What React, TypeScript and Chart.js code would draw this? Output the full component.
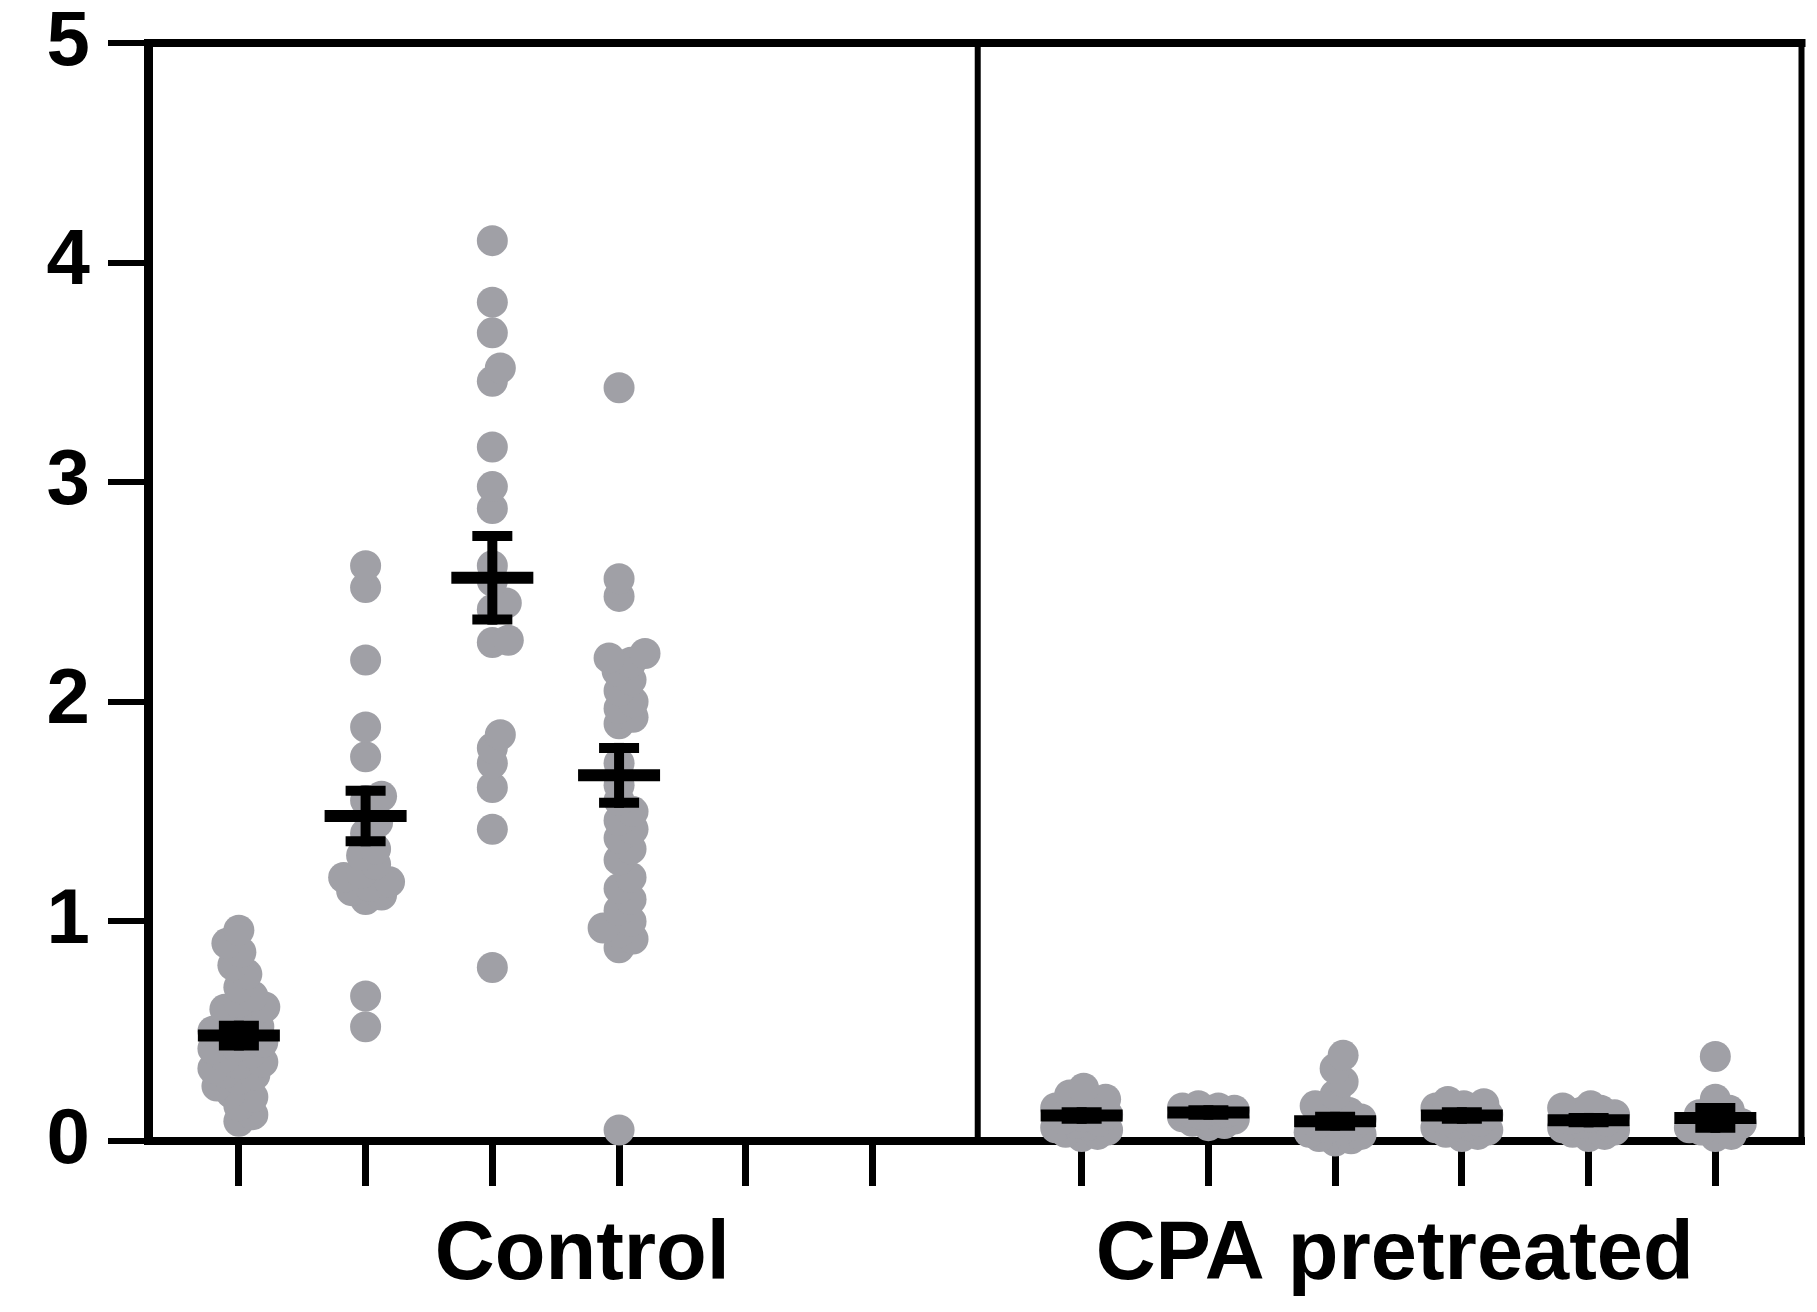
import React, { useEffect, useRef } from "react";
import { Chart, registerables } from "chart.js";

Chart.register(...registerables);

// Panel captions under the x axis
const panelLabels = ["Control", "CPA pretreated"];
const panelLabelSlots = [3.71, 10.12];

// Y axis ticks
const yTickValues = [0, 1, 2, 3, 4, 5];

// Individual measurements, Control panel (six slots, last two empty)
const control1 = [
  0.96, 0.9, 0.86, 0.8, 0.76, 0.7, 0.66, 0.63, 0.61, 0.6, 0.58, 0.55, 0.52, 0.5, 0.49, 0.47, 0.45,
  0.43, 0.42, 0.4, 0.38, 0.36, 0.35, 0.33, 0.31, 0.3, 0.28, 0.25, 0.22, 0.2, 0.16, 0.12, 0.09,
];
const control2 = [
  2.62, 2.52, 2.19, 1.885, 1.75, 1.57, 1.55, 1.45, 1.4, 1.33, 1.3, 1.26, 1.22, 1.2, 1.18, 1.16, 1.14,
  1.12, 1.1, 0.66, 0.52,
];
const control3 = [
  4.1, 3.82, 3.68, 3.52, 3.46, 3.16, 2.98, 2.88, 2.62, 2.55, 2.45, 2.42, 2.28, 2.27, 1.85, 1.79, 1.72,
  1.61, 1.42, 0.79,
];
const control4 = [
  3.43, 2.56, 2.48, 2.22, 2.2, 2.18, 2.14, 2.1, 2.05, 2.0, 1.97, 1.93, 1.9, 1.72, 1.62, 1.55, 1.5,
  1.46, 1.42, 1.38, 1.33, 1.28, 1.2, 1.15, 1.1, 1.05, 1.0, 0.97, 0.95, 0.92, 0.88, 0.05,
];
const control5: number[] = [];
const control6: number[] = [];

// Individual measurements, CPA pretreated panel
const cpa1 = [0.24, 0.21, 0.19, 0.17, 0.15, 0.14, 0.13, 0.12, 0.11, 0.1, 0.09, 0.08, 0.07, 0.06, 0.05, 0.04, 0.03, 0.02];
const cpa2 = [0.16, 0.15, 0.15, 0.14, 0.14, 0.13, 0.13, 0.12, 0.12, 0.11, 0.1, 0.09, 0.08, 0.07];
const cpa3 = [0.39, 0.33, 0.27, 0.21, 0.16, 0.13, 0.11, 0.1, 0.09, 0.08, 0.07, 0.06, 0.05, 0.04, 0.03, 0.02, 0.01, 0.0];
const cpa4 = [0.18, 0.17, 0.16, 0.15, 0.14, 0.13, 0.12, 0.11, 0.1, 0.09, 0.08, 0.07, 0.06, 0.05, 0.04, 0.03, 0.02];
const cpa5 = [0.16, 0.15, 0.14, 0.13, 0.12, 0.11, 0.1, 0.09, 0.08, 0.07, 0.06, 0.05, 0.04, 0.03, 0.02];
const cpa6 = [0.385, 0.19, 0.14, 0.12, 0.1, 0.08, 0.06, 0.05, 0.03, 0.02];

const groupValues = [control1, control2, control3, control4, control5, control6, cpa1, cpa2, cpa3, cpa4, cpa5, cpa6];

// Mean and SEM for each slot (null = no data)
const groupMeans = [0.48, 1.48, 2.565, 1.665, null, null, 0.116, 0.13, 0.09, 0.116, 0.095, 0.105];
const groupSems = [0.045, 0.115, 0.19, 0.125, null, null, 0.015, 0.01, 0.02, 0.015, 0.01, 0.045];

// Layout
const X_MIN = 0.283;
const X_MAX = 13.33;
const DIVIDER_X = 6.83;
const slotX = (i: number) => (i < 6 ? i + 1 : i + 1.65);
const tickPositions = groupValues.map((_, i) => slotX(i));

const PX_PER_X = 127;
const PX_PER_Y = 219.6;
const DOT_R = 15.5;
const MIN_GAP = 15;
const MAX_OFFSET = 26;
const STEP = 2;
const DOT_COLOR = "#a0a0a6";
const FONT = "'Liberation Sans', Arial, Helvetica, sans-serif";

// Compact beeswarm: dots sit as near the slot centre as they can, overlapping
// when the swarm would otherwise grow wider than MAX_OFFSET.
function swarm(values: number[], center: number) {
  const order = values.map((_, i) => i).sort((a, b) => values[a] - values[b]);
  const placed: { px: number; py: number }[] = [];
  const out: { x: number; y: number }[] = [];
  const steps = Math.floor(MAX_OFFSET / STEP);
  for (const i of order) {
    const py = values[i] * PX_PER_Y;
    let best = 0;
    let bestScore = -1;
    for (let k = 0; k <= steps * 2; k++) {
      const cand = k === 0 ? 0 : (k % 2 === 1 ? 1 : -1) * Math.ceil(k / 2) * STEP;
      const nearest = placed.reduce((m, p) => Math.min(m, Math.hypot(p.px - cand, p.py - py)), Infinity);
      if (nearest >= MIN_GAP) {
        best = cand;
        bestScore = Infinity;
        break;
      }
      if (nearest > bestScore) {
        bestScore = nearest;
        best = cand;
      }
    }
    placed.push({ px: best, py });
    out.push({ x: center + best / PX_PER_X, y: values[i] });
  }
  return out;
}

const framePlugin = {
  id: "panelFrame",
  beforeDatasetsDraw(chart: any) {
    const { ctx, chartArea, scales } = chart;
    ctx.save();
    ctx.strokeStyle = "#000";
    ctx.lineCap = "square";
    ctx.lineWidth = 8;
    ctx.beginPath();
    ctx.moveTo(chartArea.left, chartArea.top);
    ctx.lineTo(chartArea.right, chartArea.top);
    ctx.stroke();
    ctx.lineWidth = 6;
    ctx.beginPath();
    ctx.moveTo(chartArea.right, chartArea.top);
    ctx.lineTo(chartArea.right, chartArea.bottom);
    ctx.stroke();
    const dx = scales.x.getPixelForValue(DIVIDER_X);
    ctx.beginPath();
    ctx.moveTo(dx, chartArea.top);
    ctx.lineTo(dx, chartArea.bottom);
    ctx.stroke();
    ctx.restore();
  },
};

const meanSemPlugin = {
  id: "meanSem",
  afterDatasetsDraw(chart: any) {
    const { ctx, scales } = chart;
    const { x, y } = scales;
    ctx.save();
    ctx.strokeStyle = "#000";
    ctx.lineCap = "butt";
    groupMeans.forEach((m, i) => {
      const s = groupSems[i];
      if (m == null || s == null) return;
      const cx = x.getPixelForValue(slotX(i));
      const ym = y.getPixelForValue(m);
      const yt = y.getPixelForValue(m + s);
      const yb = y.getPixelForValue(m - s);
      ctx.lineWidth = 10;
      ctx.beginPath();
      ctx.moveTo(cx, yt - 5);
      ctx.lineTo(cx, yb + 5);
      ctx.stroke();
      for (const yc of [yt, yb]) {
        ctx.beginPath();
        ctx.moveTo(cx - 20, yc);
        ctx.lineTo(cx + 20, yc);
        ctx.stroke();
      }
      ctx.lineWidth = 12;
      ctx.beginPath();
      ctx.moveTo(cx - 41, ym);
      ctx.lineTo(cx + 41, ym);
      ctx.stroke();
    });
    ctx.restore();
  },
};

const panelLabelPlugin = {
  id: "panelLabels",
  afterDraw(chart: any) {
    const { ctx, chartArea, scales } = chart;
    ctx.save();
    ctx.fillStyle = "#000";
    ctx.font = `bold 83px ${FONT}`;
    ctx.textAlign = "center";
    ctx.textBaseline = "alphabetic";
    panelLabels.forEach((label, i) => {
      ctx.fillText(label, scales.x.getPixelForValue(panelLabelSlots[i]), chartArea.bottom + 138);
    });
    ctx.restore();
  },
};

export default function App() {
  const canvasRef = useRef<HTMLCanvasElement | null>(null);

  useEffect(() => {
    if (!canvasRef.current) return;
    const datasets = groupValues.map((vals, i) => ({
      label: i < 6 ? `${panelLabels[0]} ${i + 1}` : `${panelLabels[1]} ${i - 5}`,
      data: swarm(vals, slotX(i)),
      pointRadius: DOT_R,
      pointHoverRadius: DOT_R,
      pointBackgroundColor: DOT_COLOR,
      pointBorderWidth: 0,
      borderWidth: 0,
      showLine: false,
      clip: false as any,
    }));

    const chart = new Chart(canvasRef.current, {
      type: "scatter",
      data: { datasets },
      options: {
        responsive: false,
        animation: false,
        layout: { padding: { top: 43, right: 12, left: 0, bottom: 0 } },
        plugins: { legend: { display: false }, tooltip: { enabled: false } },
        scales: {
          x: {
            type: "linear",
            min: X_MIN,
            max: X_MAX,
            afterBuildTicks: (s: any) => {
              s.ticks = tickPositions.map((v) => ({ value: v }));
            },
            afterFit: (s: any) => {
              s.height = 171;
              s.paddingLeft = 0;
              s.paddingRight = 0;
            },
            grid: { drawOnChartArea: false, drawTicks: true, tickLength: 45, lineWidth: 7, color: "#000" },
            border: { display: true, width: 8, color: "#000" },
            ticks: { display: false, autoSkip: false },
          },
          y: {
            type: "linear",
            min: 0,
            max: 5,
            afterBuildTicks: (s: any) => {
              s.ticks = yTickValues.map((v) => ({ value: v }));
            },
            afterFit: (s: any) => {
              s.width = 148;
              s.paddingTop = 0;
              s.paddingBottom = 0;
            },
            grid: { drawOnChartArea: false, drawTicks: true, tickLength: 40, lineWidth: 6, color: "#000" },
            border: { display: true, width: 9, color: "#000" },
            ticks: {
              padding: 18,
              color: "#000",
              font: { family: FONT, size: 78, weight: "bold" },
              callback: (v: any) => String(v),
            },
          },
        },
      },
      plugins: [framePlugin, meanSemPlugin, panelLabelPlugin],
    });
    return () => chart.destroy();
  }, []);

  return (
    <div style={{ position: "absolute", left: 0, top: 0, width: 1817, height: 1312, background: "#fff" }}>
      <canvas ref={canvasRef} width={1817} height={1312} style={{ display: "block" }} />
    </div>
  );
}
